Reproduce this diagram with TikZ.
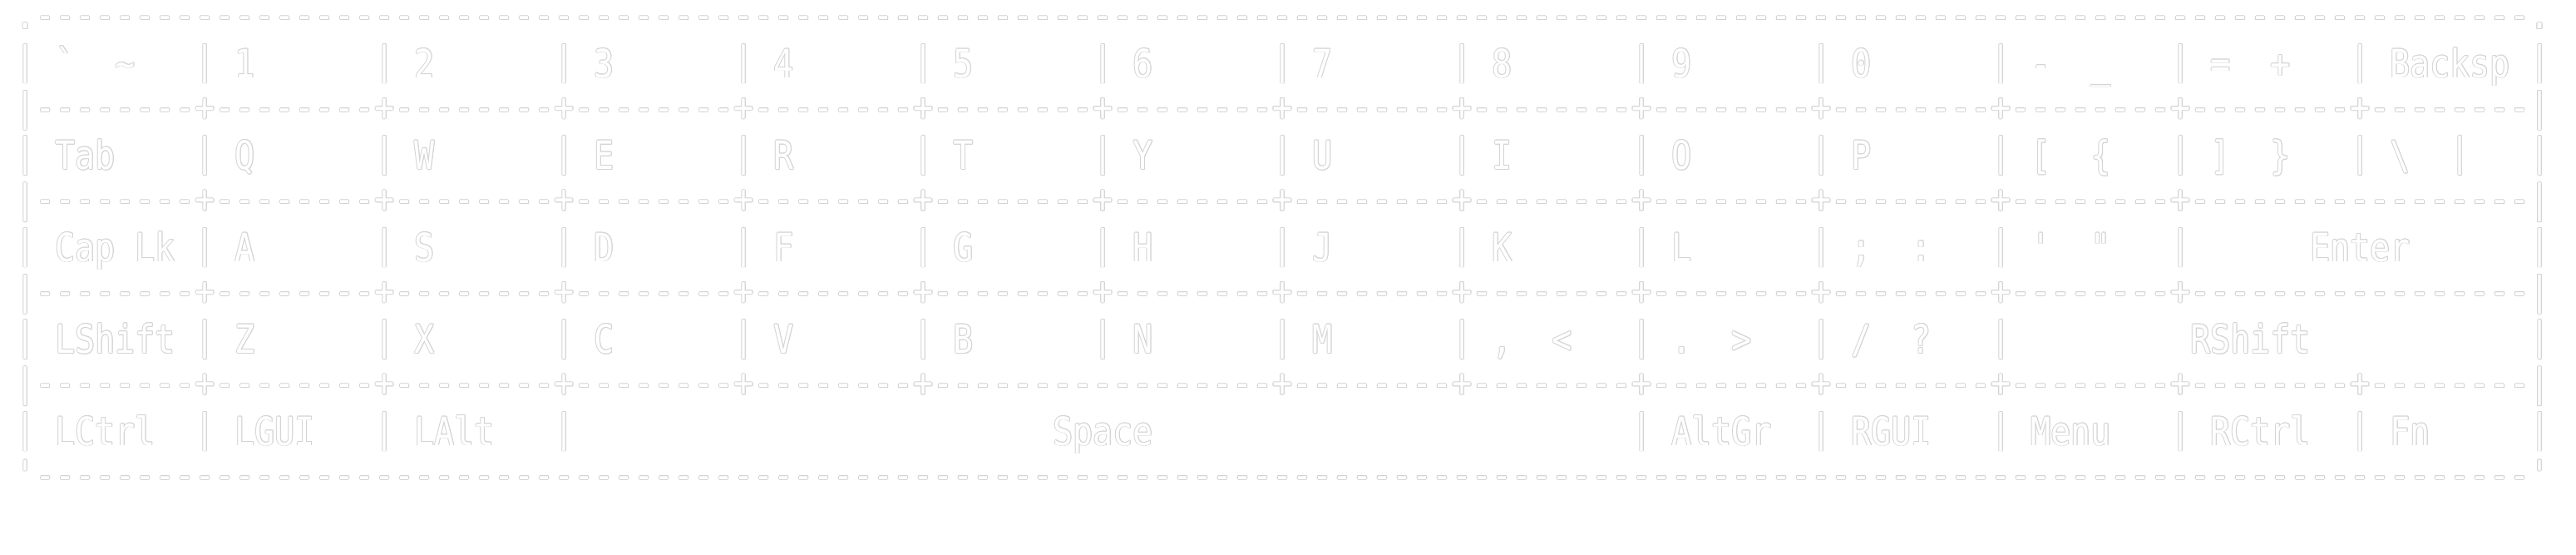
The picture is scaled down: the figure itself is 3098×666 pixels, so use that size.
\documentclass[tikz,border=0pt]{standalone}
\usepackage{fontspec}
\newfontfamily\kbfont[FakeStretch=0.84816]{DejaVu Sans Mono}
\definecolor{ringc}{RGB}{212,212,212}
\newcommand\kbD{-\kern0pt-\kern0pt-\kern0pt-\kern0pt-\kern0pt-\kern0pt-\kern0pt-\kern0pt}
\newcommand\kbJ{-\kern0pt}
\tikzset{kb/.style={anchor=base west, inner sep=0pt, outer sep=0pt,
  font={\kbfont\fontsize{11.75pt}{13pt}\selectfont}}}
% #1 name, #2 column, #3 text line, #4 vertical shift (px, down), #5 text
\newcommand\kbput[5]{%
  \pgfmathsetmacro\kbx{18.7+24*(#2)}%
  \pgfmathsetmacro\kby{37.75+55.25*(#3)+(#4)}%
  \foreach \ang in {0,45,...,315}{%
    \node[kb,text=ringc,shift={(\ang:0.85)}] at (\kbx,\kby) {#5};}%
  \node[kb,text=white] (#1) at (\kbx,\kby) {#5};%
}
\begin{document}
\begin{tikzpicture}[x=0.25pt,y=-0.25pt]
\fill[white] (0,0) rectangle (3098,666);
\useasboundingbox (0,0) rectangle (3098,666);
% borders and separator lines
\kbput{top}{0}{0}{-3}{.\kbD\kbJ\kbD\kbJ\kbD\kbJ\kbD\kbJ\kbD\kbJ\kbD\kbJ\kbD\kbJ\kbD\kbJ\kbD\kbJ\kbD\kbJ\kbD\kbJ\kbD\kbJ\kbD\kbJ\kbD.}
\kbput{sep2}{0}{2}{-3}{|\kbD+\kbD+\kbD+\kbD+\kbD+\kbD+\kbD+\kbD+\kbD+\kbD+\kbD+\kbD+\kbD+\kbD|}
\kbput{sep4}{0}{4}{-3}{|\kbD+\kbD+\kbD+\kbD+\kbD+\kbD+\kbD+\kbD+\kbD+\kbD+\kbD+\kbD+\kbD\kbJ\kbD|}
\kbput{sep6}{0}{6}{-3}{|\kbD+\kbD+\kbD+\kbD+\kbD+\kbD+\kbD+\kbD+\kbD+\kbD+\kbD+\kbD+\kbD\kbJ\kbD|}
\kbput{sep8}{0}{8}{-3}{|\kbD+\kbD+\kbD+\kbD+\kbD+\kbD\kbJ\kbD+\kbD+\kbD+\kbD+\kbD+\kbD+\kbD+\kbD|}
\kbput{bottom}{0}{10}{-3}{\symbol{"27}\kbD\kbJ\kbD\kbJ\kbD\kbJ\kbD\kbJ\kbD\kbJ\kbD\kbJ\kbD\kbJ\kbD\kbJ\kbD\kbJ\kbD\kbJ\kbD\kbJ\kbD\kbJ\kbD\kbJ\kbD\symbol{"27}}
% key separators
\foreach \k in {0,1,2,3,4,5,6,7,8,9,10,11,12,13,14}{\kbput{b1-\k}{9*\k}{1}{-4}{|}}
\foreach \k in {0,1,2,3,4,5,6,7,8,9,10,11,12,13,14}{\kbput{b3-\k}{9*\k}{3}{-4}{|}}
\foreach \k in {0,1,2,3,4,5,6,7,8,9,10,11,12,14}{\kbput{b5-\k}{9*\k}{5}{-4}{|}}
\foreach \k in {0,1,2,3,4,5,6,7,8,9,10,11,14}{\kbput{b7-\k}{9*\k}{7}{-4}{|}}
\foreach \k in {0,1,2,3,9,10,11,12,13,14}{\kbput{b9-\k}{9*\k}{9}{-4}{|}}
% row 1
\kbput{kgrave}{2}{1}{0}{\symbol{"60}}
\kbput{ktilde}{5}{1}{0}{\symbol{"7E}}
\kbput{k1}{11}{1}{0}{1}
\kbput{k2}{20}{1}{0}{2}
\kbput{k3}{29}{1}{0}{3}
\kbput{k4}{38}{1}{0}{4}
\kbput{k5}{47}{1}{0}{5}
\kbput{k6}{56}{1}{0}{6}
\kbput{k7}{65}{1}{0}{7}
\kbput{k8}{74}{1}{0}{8}
\kbput{k9}{83}{1}{0}{9}
\kbput{k0}{92}{1}{0}{0}
\kbput{kminus}{101}{1}{0}{-}
\kbput{kunder}{104}{1}{0}{\symbol{"5F}}
\kbput{kequal}{110}{1}{0}{=}
\kbput{kplus}{113}{1}{0}{+}
\kbput{kbksp}{119}{1}{0}{Backsp}
% row 2
\kbput{ktab}{2}{3}{0}{Tab}
\kbput{kQ}{11}{3}{0}{Q}
\kbput{kW}{20}{3}{0}{W}
\kbput{kE}{29}{3}{0}{E}
\kbput{kR}{38}{3}{0}{R}
\kbput{kT}{47}{3}{0}{T}
\kbput{kY}{56}{3}{0}{Y}
\kbput{kU}{65}{3}{0}{U}
\kbput{kI}{74}{3}{0}{I}
\kbput{kO}{83}{3}{0}{O}
\kbput{kP}{92}{3}{0}{P}
\kbput{klbrack}{101}{3}{0}{[}
\kbput{klbrace}{104}{3}{0}{\symbol{"7B}}
\kbput{krbrack}{110}{3}{0}{]}
\kbput{krbrace}{113}{3}{0}{\symbol{"7D}}
\kbput{kbslash}{119}{3}{0}{\symbol{"5C}}
\kbput{kpipe}{122}{3}{-4}{|}
% row 3
\kbput{kcap}{2}{5}{0}{Cap}
\kbput{klk}{6}{5}{0}{Lk}
\kbput{kA}{11}{5}{0}{A}
\kbput{kS}{20}{5}{0}{S}
\kbput{kD}{29}{5}{0}{D}
\kbput{kF}{38}{5}{0}{F}
\kbput{kG}{47}{5}{0}{G}
\kbput{kH}{56}{5}{0}{H}
\kbput{kJ}{65}{5}{0}{J}
\kbput{kK}{74}{5}{0}{K}
\kbput{kL}{83}{5}{0}{L}
\kbput{ksemi}{92}{5}{0}{;}
\kbput{kcolon}{95}{5}{0}{:}
\kbput{kapos}{101}{5}{0}{\symbol{"27}}
\kbput{kquote}{104}{5}{0}{\symbol{"22}}
\kbput{kenter}{115}{5}{0}{Enter}
% row 4
\kbput{klshift}{2}{7}{0}{LShift}
\kbput{kZ}{11}{7}{0}{Z}
\kbput{kX}{20}{7}{0}{X}
\kbput{kC}{29}{7}{0}{C}
\kbput{kV}{38}{7}{0}{V}
\kbput{kB}{47}{7}{0}{B}
\kbput{kN}{56}{7}{0}{N}
\kbput{kM}{65}{7}{0}{M}
\kbput{kcomma}{74}{7}{0}{,}
\kbput{kless}{77}{7}{0}{\symbol{"3C}}
\kbput{kdot}{83}{7}{0}{.}
\kbput{kgreater}{86}{7}{0}{\symbol{"3E}}
\kbput{kslash}{92}{7}{0}{/}
\kbput{kquest}{95}{7}{0}{?}
\kbput{krshift}{109}{7}{0}{RShift}
% row 5
\kbput{klctrl}{2}{9}{0}{LCtrl}
\kbput{klgui}{11}{9}{0}{LGUI}
\kbput{klalt}{20}{9}{0}{LAlt}
\kbput{kspace}{52}{9}{0}{Space}
\kbput{kaltgr}{83}{9}{0}{AltGr}
\kbput{krgui}{92}{9}{0}{RGUI}
\kbput{kmenu}{101}{9}{0}{Menu}
\kbput{krctrl}{110}{9}{0}{RCtrl}
\kbput{kfn}{119}{9}{0}{Fn}
\end{tikzpicture}
\end{document}
